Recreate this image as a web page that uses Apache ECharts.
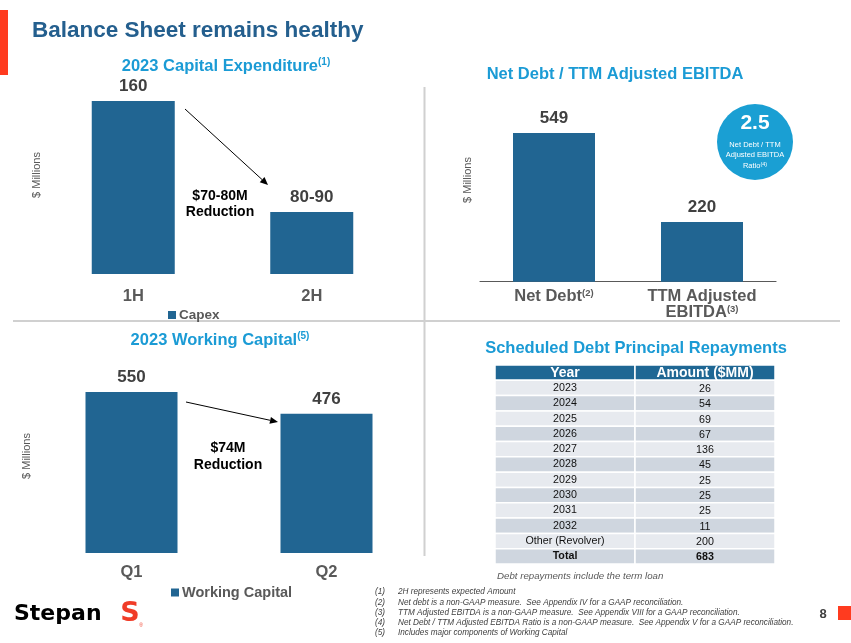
<!DOCTYPE html>
<html><head><meta charset="utf-8">
<script src="https://cdn.jsdelivr.net/npm/echarts@6/dist/echarts.min.js"></script>
<style>html,body{margin:0;padding:0;background:#fff}#c{width:851px;height:643px}</style>
</head><body><div id="c"></div>
<script>
// ---- data ----
const capexCats = ['1H', '2H'];
const capexVals = [160, 85];
const capexLabels = ['160', '80-90'];
const debtCats = ['Net Debt{s|(2)}', 'TTM Adjusted\nEBITDA{s|(3)}'];
const debtVals = [549, 220];
const wcCats = ['Q1', 'Q2'];
const wcVals = [550, 476];
const tableHeader = ['Year', 'Amount ($MM)'];
const tableYears = ['2023','2024','2025','2026','2027','2028','2029','2030','2031','2032','Other (Revolver)','Total'];
const tableAmounts = [26, 54, 69, 67, 136, 45, 25, 25, 25, 11, 200, 683];
const footnotes = [
  ['(1)', '2H represents expected Amount'],
  ['(2)', 'Net debt is a non-GAAP measure.  See Appendix IV for a GAAP reconciliation.'],
  ['(3)', 'TTM Adjusted EBITDA is a non-GAAP measure.  See Appendix VIII for a GAAP reconciliation.'],
  ['(4)', 'Net Debt / TTM Adjusted EBITDA Ratio is a non-GAAP measure.  See Appendix V for a GAAP reconciliation.'],
  ['(5)', 'Includes major components of Working Capital']
];

const FONT = '"Liberation Sans", Arial, sans-serif';
const BAR = '#216592';
const CYAN = '#1b9bd5';
const GREY = '#595959';

// table cells
const tableRows = ['hdr'].concat(tableYears);
const cellData = [], cellText = [];
tableRows.forEach((r, i) => {
  cellData.push([0, i]); cellText.push(i === 0 ? tableHeader[0] : tableYears[i - 1]);
  cellData.push([1, i]); cellText.push(i === 0 ? tableHeader[1] : String(tableAmounts[i - 1]));
});

function arrow(x1, y1, x2, y2) {
  const a = Math.atan2(y2 - y1, x2 - x1), L = 8, W = 3.5;
  const bx = x2 - L * Math.cos(a), by = y2 - L * Math.sin(a);
  const px = -Math.sin(a) * W, py = Math.cos(a) * W;
  return [
    {type: 'line', shape: {x1, y1, x2: bx, y2: by}, style: {stroke: '#000', lineWidth: 1}},
    {type: 'polygon', shape: {points: [[x2, y2], [bx + px, by + py], [bx - px, by - py]]}, style: {fill: '#000'}}
  ];
}
function txt(x, y, text, o, rot) {
  const e = {type: 'text', x, y, style: Object.assign({text, fontFamily: FONT, align: 'center', verticalAlign: 'middle'}, o || {})};
  if (rot) e.rotation = rot;
  return e;
}
const supRich = {s: {fontSize: 10, fontWeight: 'bold', fill: CYAN, padding: [0, 0, 8, 0], fontFamily: FONT}};
const TT = {fontFamily: FONT, fontSize: 16.5, fontWeight: 'bold', fill: CYAN, align: 'center', verticalAlign: 'middle'};

const graphics = [
  {type: 'rect', shape: {x: 0, y: 10, width: 8, height: 65}, style: {fill: '#ff3b1f'}},
  txt(32, 31, 'Balance Sheet remains healthy', {align: 'left', fontSize: 22.5, fontWeight: 'bold', fill: '#245f8e'}),
  // dividers
  {type: 'line', shape: {x1: 424.5, y1: 87, x2: 424.5, y2: 556}, style: {stroke: '#d0d0d0', lineWidth: 2}},
  {type: 'line', shape: {x1: 13, y1: 321, x2: 840, y2: 321}, style: {stroke: '#d0d0d0', lineWidth: 2}},
  // section titles
  {type: 'text', x: 226, y: 66, style: Object.assign({text: '2023 Capital Expenditure{s|(1)}', rich: supRich}, TT)},
  {type: 'text', x: 615, y: 74, style: Object.assign({text: 'Net Debt / TTM Adjusted EBITDA'}, TT)},
  {type: 'text', x: 220, y: 340, style: Object.assign({text: '2023 Working Capital{s|(5)}', rich: supRich}, TT)},
  {type: 'text', x: 636, y: 348, style: Object.assign({text: 'Scheduled Debt Principal Repayments'}, TT)},
  // y axis names
  txt(37, 175, '$ Millions', {fontSize: 11, fill: GREY}, Math.PI / 2),
  txt(468, 180, '$ Millions', {fontSize: 11, fill: GREY}, Math.PI / 2),
  txt(27, 456, '$ Millions', {fontSize: 11, fill: GREY}, Math.PI / 2),
  // annotations
  txt(220, 196, '$70-80M', {fontSize: 14, fontWeight: 'bold', fill: '#000'}),
  txt(220, 212, 'Reduction', {fontSize: 14, fontWeight: 'bold', fill: '#000'}),
  txt(228, 448, '$74M', {fontSize: 14, fontWeight: 'bold', fill: '#000'}),
  txt(228, 465, 'Reduction', {fontSize: 14, fontWeight: 'bold', fill: '#000'}),
  // badge
  {type: 'circle', shape: {cx: 755, cy: 142, r: 38}, style: {fill: '#1a9fd3'}},
  txt(755, 123, '2.5', {fontSize: 21, fontWeight: 'bold', fill: '#fff'}),
  txt(755, 145, 'Net Debt / TTM', {fontSize: 7.5, fill: '#fff'}),
  txt(755, 155, 'Adjusted EBITDA', {fontSize: 7.5, fill: '#fff'}),
  {type: 'text', x: 755, y: 166, style: {text: 'Ratio{t|(4)}', rich: {t: {fontSize: 5.5, fill: '#fff', padding: [0, 0, 4, 0], fontFamily: FONT}}, fontFamily: FONT, fontSize: 7.5, fill: '#fff', align: 'center', verticalAlign: 'middle'}},
  // table note
  txt(497, 576, 'Debt repayments include the term loan', {align: 'left', fontSize: 9.7, fontStyle: 'italic', fill: GREY}),
  // page number
  txt(823, 614, '8', {fontSize: 13, fontWeight: 'bold', fill: '#404040'}),
  {type: 'rect', shape: {x: 838, y: 606, width: 13, height: 14}, style: {fill: '#ff3b1f'}},
  // logo
  txt(14, 614, 'Stepan', {align: 'left', fontSize: 22, fontWeight: 900, fill: '#000', fontFamily: '"DejaVu Sans", ' + FONT}),
  txt(130, 614, 'S', {fontSize: 27, fontWeight: 900, fill: '#f03c28', fontFamily: '"DejaVu Sans", ' + FONT}),
  txt(141, 626, '®', {fontSize: 5, fill: '#f03c28'})
].concat(arrow(185, 109, 268, 185), arrow(186, 402, 278, 422));

footnotes.forEach((f, i) => {
  graphics.push(txt(375, 592 + i * 10.3, f[0], {align: 'left', fontSize: 8.2, fontStyle: 'italic', fill: '#404040'}));
  graphics.push(txt(398, 592 + i * 10.3, f[1], {align: 'left', fontSize: 8.2, fontStyle: 'italic', fill: '#404040'}));
});

const hiddenVal = (gi, min, max) => ({type: 'value', gridIndex: gi, min, max, show: false, splitLine: {show: false}});
const catAxis = (gi, data, margin, fs, showLine) => ({
  type: 'category', gridIndex: gi, data,
  axisLine: {show: showLine, lineStyle: {color: '#595959', width: 1.2}},
  axisTick: {show: false},
  axisLabel: {interval: 0, hideOverlap: false, margin, fontSize: fs, fontWeight: 'bold', color: GREY, fontFamily: FONT, lineHeight: 16,
    rich: {s: {fontSize: 9.5, fontWeight: 'bold', color: GREY, padding: [0, 0, 7, 0], fontFamily: FONT}}}
});
const valLabel = (fmt) => ({show: true, position: 'top', distance: 6, fontSize: 17, fontWeight: 'bold', color: '#404040', fontFamily: FONT, formatter: fmt});

const option = {
  animation: false,
  backgroundColor: '#fff',
  textStyle: {fontFamily: FONT},
  grid: [
    {left: 44, width: 357, top: 101, height: 173},
    {left: 480, width: 296, top: 133, height: 148.7},
    {left: 34, width: 390, top: 392, height: 161},
    {left: 495, width: 280, top: 365, height: 199}
  ],
  xAxis: [
    catAxis(0, capexCats, 14, 16.5, false),
    catAxis(1, debtCats, 7, 16.5, true),
    catAxis(2, wcCats, 11, 16.5, false),
    {type: 'category', gridIndex: 3, data: tableHeader, show: false}
  ],
  yAxis: [
    hiddenVal(0, 43, 160),
    hiddenVal(1, 0, 549),
    hiddenVal(2, 0, 550),
    {type: 'category', gridIndex: 3, data: tableRows, inverse: true, show: false}
  ],
  legend: [
    {data: ['Capex'], left: 163, top: 303, icon: 'rect', itemWidth: 8, itemHeight: 8, itemGap: 4,
      textStyle: {fontSize: 13.5, fontWeight: 'bold', color: GREY, fontFamily: FONT, padding: [0, 0, 0, -2]}},
    {data: ['Working Capital'], left: 166, top: 580, icon: 'rect', itemWidth: 8, itemHeight: 8,
      textStyle: {fontSize: 14.5, fontWeight: 'bold', color: GREY, fontFamily: FONT, padding: [0, 0, 0, -2]}}
  ],
  series: [
    {name: 'Capex', type: 'bar', xAxisIndex: 0, yAxisIndex: 0, data: capexVals, barWidth: 83, itemStyle: {color: BAR},
      label: valLabel(p => capexLabels[p.dataIndex])},
    {name: 'NetDebt', type: 'bar', xAxisIndex: 1, yAxisIndex: 1, data: debtVals, barWidth: 82, itemStyle: {color: BAR},
      label: valLabel('{c}')},
    {name: 'Working Capital', type: 'bar', xAxisIndex: 2, yAxisIndex: 2, data: wcVals, barWidth: 92, itemStyle: {color: BAR},
      label: valLabel('{c}')},
    {name: 'table', type: 'custom', xAxisIndex: 3, yAxisIndex: 3, data: cellData,
      renderItem: function (params, api) {
        const col = api.value(0), row = api.value(1);
        const c = api.coord([col, row]);
        const s = api.size([1, 1]);
        const hdr = row === 0;
        const fill = hdr ? '#1f6794' : (row % 2 === 1 ? '#e7eaef' : '#cfd6df');
        return {type: 'group', children: [
          {type: 'rect', shape: {x: c[0] - s[0] / 2, y: c[1] - s[1] / 2, width: s[0], height: s[1]},
            style: {fill, stroke: '#fff', lineWidth: 1.5}},
          {type: 'text', style: {text: cellText[params.dataIndex], x: c[0], y: c[1] + (col === 1 && !hdr ? 1 : 0),
            align: 'center', verticalAlign: 'middle', fontFamily: FONT,
            fontSize: hdr ? 14 : 10.7, fontWeight: (hdr || row === tableRows.length - 1) ? 'bold' : 'normal',
            fill: hdr ? '#fff' : '#111'}}
        ]};
      }}
  ],
  graphic: graphics
};
const chart = echarts.init(document.getElementById('c'), null, {renderer: 'canvas'});
chart.setOption(option);
</script></body></html>
